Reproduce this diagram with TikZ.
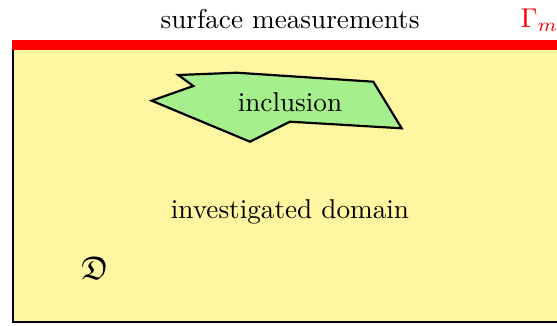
\documentclass[tikz,border=0pt]{standalone}
\usepackage{amssymb}
\definecolor{domainfill}{RGB}{254,246,161}
\definecolor{inclfill}{RGB}{165,240,140}
\begin{document}
\begin{tikzpicture}[x=0.3677pt,y=-0.3677pt]
\useasboundingbox (0,0) rectangle (557,325);
\tikzset{
  domainbox/.style={fill=domainfill, draw=black, line width=1pt},
  inclshape/.style={fill=inclfill, draw=black, line width=0.8pt, line join=miter},
  lbl/.style={inner sep=0pt, font=\normalsize}
}
\clip (0,0) rectangle (557,325);
\draw[domainbox] (13,45) rectangle (620,322);
\draw[red, line width=3.4pt] (12,45) -- (620,45);
\draw[inclshape] (178.3,75) -- (236.7,72.7) -- (373.3,81.7) -- (401.7,128.3) -- (290,121.7) -- (250,141.7) -- (151.7,100.7) -- (193.3,86) -- cycle;
\node[lbl] (surf) at (290,19) {surface measurements};
\node[lbl, anchor=west, text=red] (gam) at (520,20) {$\Gamma_m$};
\node[lbl] (incl) at (290,102) {inclusion};
\node[lbl] (dom) at (290,212) {investigated domain};
\node[lbl, font=\large] (D) at (95,268) {$\mathfrak{D}$};
\end{tikzpicture}
\end{document}
